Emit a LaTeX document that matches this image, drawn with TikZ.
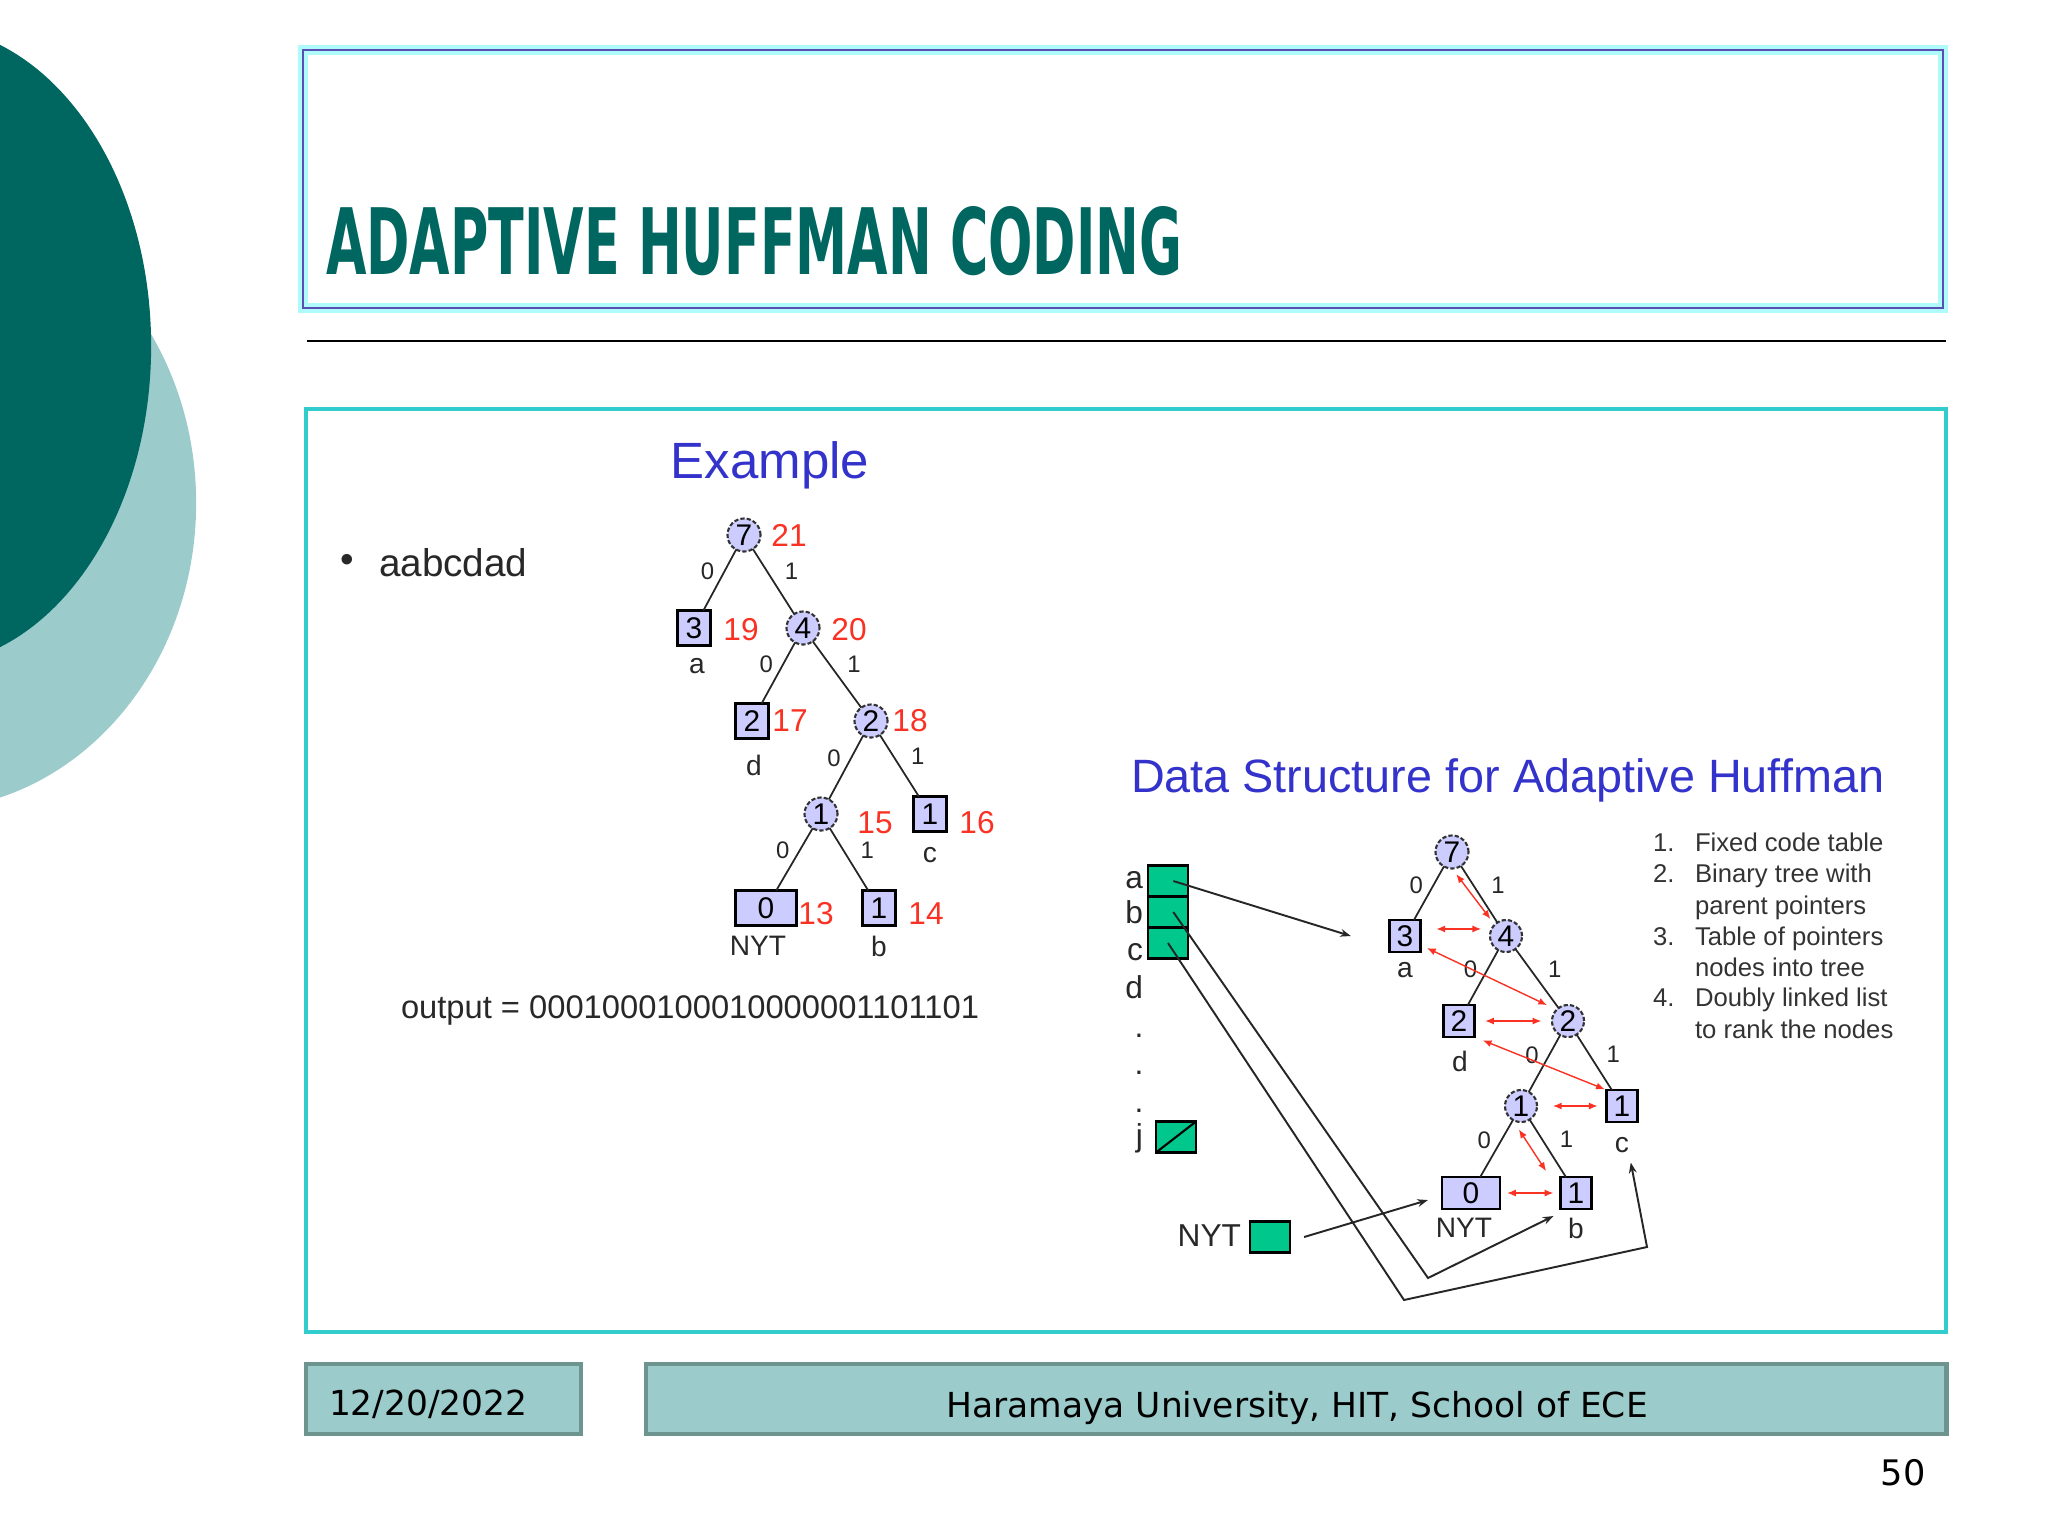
\documentclass[tikz,border=0pt]{standalone}
\usepackage{fontspec}
\setmainfont{Liberation Sans}
\newfontfamily\footfont{DejaVu Sans}
\usetikzlibrary{arrows.meta,positioning}

\definecolor{darkteal}{RGB}{0,102,96}
\definecolor{lightteal}{RGB}{156,203,203}
\definecolor{footline}{RGB}{110,148,144}
\definecolor{frameturq}{RGB}{51,204,204}
\definecolor{titleline}{RGB}{90,80,180}
\definecolor{glow}{RGB}{175,250,250}
\definecolor{headblue}{RGB}{51,51,204}
\definecolor{wtred}{RGB}{250,50,35}
\definecolor{nodefill}{RGB}{204,204,255}
\definecolor{cellgreen}{RGB}{0,200,140}
\definecolor{txtgray}{RGB}{40,40,40}

\begin{document}
\begin{tikzpicture}[x=0.01cm, y=-0.01cm,
  every node/.style={inner sep=0pt, outer sep=0pt},
  inode/.style={circle, draw=black!80, dash pattern=on 1.2pt off 0.6pt, line width=0.6pt,
    fill=nodefill, minimum size=0.33cm, font=\fontsize{8.5}{9}\selectfont},
  leaf/.style={rectangle, draw=black, line width=0.8pt, fill=nodefill,
    minimum width=0.33cm, minimum height=0.35cm, font=\fontsize{8.5}{9}\selectfont},
  nytleaf/.style={leaf, minimum width=0.61cm},
  branch/.style={draw=black!85, line width=0.5pt},
  rank/.style={draw=wtred, line width=0.4pt, {Latex[length=2.5pt,width=2pt]}-{Latex[length=2.5pt,width=2pt]}},
  ptr/.style={draw=black!85, line width=0.55pt, -{Stealth[length=3pt,width=2.2pt]}}
]

% Label styles
\tikzset{
  elabel/.style={font=\fontsize{6.8}{7}\selectfont, text=black!85},
  wt/.style={font=\fontsize{9}{10}\selectfont, text=wtred},
  sym/.style={font=\fontsize{8}{9}\selectfont, text=txtgray},
  cell/.style={rectangle, draw=black, line width=0.6pt, fill=cellgreen,
    minimum width=0.4cm, minimum height=0.31cm},
  listtxt/.style={anchor=base west, font=\fontsize{7.3}{8}\selectfont, text=black!80}
}

\useasboundingbox (0,0) rectangle (2048,1536);

% ---- Slide background ----
\begin{scope}
  \clip (0,0) rectangle (2048,1536);
  \fill[lightteal] (-78,503) ellipse [x radius=2.74cm, y radius=3.07cm];
  \fill[darkteal] (-78,346) ellipse [x radius=2.29cm, y radius=3.2cm];
\end{scope}

\draw[glow, line width=3pt] (303,50) rectangle (1943,308);
\draw[titleline, line width=0.6pt] (303,50) rectangle (1943,308);
\node[anchor=base west, text=darkteal] (title) at (326,274)
  {\resizebox{8.56cm}{0.68cm}{\footfont\bfseries ADAPTIVE HUFFMAN CODING}};
\draw[black, line width=0.7pt] (307,341) -- (1946,341);

\draw[frameturq, line width=1.4pt] (306,409) rectangle (1946,1332);

% ---- Footer ----
\node[draw=footline, line width=1.2pt, fill=lightteal, minimum width=2.75cm, minimum height=0.7cm]
  (datebox) at (443.5,1399) {};
\node[anchor=west, font=\footfont\fontsize{9.8}{11}\selectfont] (date) at (329,1404) {12/20/2022};
\node[draw=footline, line width=1.2pt, fill=lightteal, minimum width=13cm, minimum height=0.7cm]
  (schoolbox) at (1296,1399) {};
\node[font=\footfont\fontsize{9.8}{11}\selectfont] (school) at (1297,1408)
  {Haramaya University, HIT, School of ECE};
\node[font=\footfont\fontsize{10}{11}\selectfont] (page) at (1903,1473) {50};

% ---- Example ----
\node[font=\fontsize{14.5}{16}\selectfont, text=headblue] (ex) at (770,465) {Example};
\node[font=\fontsize{11}{12}\selectfont, text=txtgray] (bul) at (347,563) {\textbullet};
\node[anchor=west, font=\fontsize{11}{12}\selectfont, text=txtgray] (seq) at (379,563) {aabcdad};
\node[anchor=west, font=\fontsize{9.3}{10}\selectfont, text=txtgray] (out) at (401,1010)
  {output = 0001000100010000001101101};

\node[inode] (T) at (744,535) {7};
\node[leaf] (A) at (694,628) {3};
\node[inode] (N4) at (803,628) {4};
\node[leaf] (D) at (752,721) {2};
\node[inode] (N2) at (871,721) {2};
\node[inode] (N1) at (821,814) {1};
\node[leaf] (C) at (930,814) {1};
\node[nytleaf] (NYT) at (766,908) {0};
\node[leaf] (B) at (879,908) {1};

\draw[branch] (T) -- node[elabel, pos=.35, left=3pt]{0} (A);
\draw[branch] (T) -- node[elabel, pos=.35, right=5pt]{1} (N4);
\draw[branch] (N4) -- node[elabel, pos=.35, left=3pt]{0} (D);
\draw[branch] (N4) -- node[elabel, pos=.35, right=5pt]{1} (N2);
\draw[branch] (N2) -- node[elabel, pos=.35, left=3pt]{0} (N1);
\draw[branch] (N2) -- node[elabel, pos=.35, right=5pt]{1} (C);
\draw[branch] (N1) -- node[elabel, pos=.35, left=3pt]{0} (NYT);
\draw[branch] (N1) -- node[elabel, pos=.35, right=5pt]{1} (B);

\node[wt] at (789,535) {21};
\node[wt] at (741,630) {19};
\node[wt] at (849,630) {20};
\node[wt] at (790,721) {17};
\node[wt] at (910,721) {18};
\node[wt] at (875,823) {15};
\node[wt] at (977,823) {16};
\node[wt] at (816,914) {13};
\node[wt] at (926,914) {14};

\node[sym] (la) at (697,666) {a};
\node[sym] (ld) at (754,765) {d};
\node[sym] (lc) at (930,855) {c};
\node[sym] (lnyt) at (758,946) {NYT};
\node[sym] (lb) at (879,946) {b};

% ---- Data structure ----
\node[anchor=west, font=\fontsize{13.3}{15}\selectfont, text=headblue] (ds) at (1131,780)
  {Data Structure for Adaptive Huffman};

\node[inode] (rT) at (1452,852) {7};
\node[leaf, minimum width=0.31cm, minimum height=0.32cm] (rA) at (1405,936) {3};
\node[inode, minimum size=0.32cm] (rN4) at (1506,936) {4};
\node[leaf, minimum width=0.31cm, minimum height=0.32cm] (rD) at (1459,1021) {2};
\node[inode, minimum size=0.32cm] (rN2) at (1568,1021) {2};
\node[inode, minimum size=0.32cm] (rN1) at (1521,1106) {1};
\node[leaf, minimum width=0.31cm, minimum height=0.32cm] (rC) at (1622,1106) {1};
\node[nytleaf, minimum width=0.58cm, minimum height=0.32cm] (rNYT) at (1471,1193) {0};
\node[leaf, minimum width=0.31cm, minimum height=0.32cm] (rB) at (1576,1193) {1};

\draw[branch] (rT) -- node[elabel, pos=.35, left=3pt]{0} (rA);
\draw[branch] (rT) -- node[elabel, pos=.35, right=5pt]{1} (rN4);
\draw[branch] (rN4) -- node[elabel, pos=.35, left=3pt]{0} (rD);
\draw[branch] (rN4) -- node[elabel, pos=.35, right=5pt]{1} (rN2);
\draw[branch] (rN2) -- node[elabel, pos=.35, left=3pt]{0} (rN1);
\draw[branch] (rN2) -- node[elabel, pos=.35, right=5pt]{1} (rC);
\draw[branch] (rN1) -- node[elabel, pos=.35, left=3pt]{0} (rNYT);
\draw[branch] (rN1) -- node[elabel, pos=.35, right=5pt]{1} (rB);

\node[sym] (rla) at (1405,970) {a};
\node[sym] (rld) at (1460,1061) {d};
\node[sym] (rlc) at (1622,1145) {c};
\node[sym] (rlnyt) at (1464,1228) {NYT};
\node[sym] (rlb) at (1576,1228) {b};

% sibling list
\draw[rank, shorten <=2pt, shorten >=2pt] (rT.south) -- (rN4.north west);
\draw[rank, shorten <=4.5pt, shorten >=2.5pt] ([yshift=2pt]rA.east) -- ([yshift=2pt]rN4.west);
\draw[rank, shorten <=2pt, shorten >=3pt] ([yshift=2pt]rA.south east) -- (rN2.north west);
\draw[rank, shorten <=3pt, shorten >=3pt] (rD.east) -- (rN2.west);
\draw[rank, shorten <=2.5pt, shorten >=0.5pt] (rD.south east) -- (rC.north west);
\draw[rank, shorten <=4.5pt, shorten >=2.5pt] (rN1.east) -- (rC.west);
\draw[rank, shorten <=2.5pt, shorten >=2pt] ([xshift=-2pt]rN1.south) -- ([xshift=-3pt]rB.north west);
\draw[rank, shorten <=2pt, shorten >=2pt] (rNYT.east) -- (rB.west);

% symbol table
\node[cell] (ca) at (1168,881) {};
\node[cell] (cb) at (1168,912) {};
\node[cell] (cc) at (1168,943) {};
\node[cell] (cj) at (1176,1137) {};
\draw[black, line width=0.6pt] (cj.south west) -- (cj.north east);
\node[cell] (cnyt) at (1270,1237) {};

\foreach \s/\yb in {a/888, b/923, c/960, d/998}
  \node[anchor=base east, font=\fontsize{9}{10}\selectfont, text=txtgray] at (1143,\yb) {\s};
\foreach \yb in {1037, 1074, 1112}
  \node[anchor=base, font=\fontsize{9}{10}\selectfont, text=txtgray] at (1139,\yb) {.};
\node[anchor=base east, font=\fontsize{9}{10}\selectfont, text=txtgray] (lj) at (1143,1146) {j};
\node[anchor=east, font=\fontsize{9}{10}\selectfont, text=txtgray] (lnytc) at (1241,1236) {NYT};

\coordinate (bturn) at (1428,1278);
\coordinate (cturn1) at (1404,1300);
\coordinate (cturn2) at (1647,1247);

\draw[ptr] ([xshift=1.5pt]ca.center) -- ([xshift=-11pt]rA.west);
\draw[ptr] ([xshift=1.5pt]cb.center) -- (bturn) -- ([xshift=-2pt,yshift=-2pt]rB.south west);
\draw[ptr] (cc.center) -- (cturn1) -- (cturn2) -- ([xshift=2.5pt,yshift=-2.8pt]rlc.south);
\draw[ptr] ([xshift=4pt]cnyt.east) -- ([xshift=-4pt,yshift=-2pt]rNYT.west);

% ---- Item list ----
\foreach \n/\yb in {1./851, 2./882, 3./945, 4./1006}
  \node[listtxt] at (1653,\yb) {\n};
\node[listtxt] at (1695,851) {Fixed code table};
\node[listtxt] at (1695,882) {Binary tree with};
\node[listtxt] at (1695,914) {parent pointers};
\node[listtxt] at (1695,945) {Table of pointers};
\node[listtxt] at (1695,976) {nodes into tree};
\node[listtxt] at (1695,1006) {Doubly linked list};
\node[listtxt] at (1695,1038) {to rank the nodes};

\end{tikzpicture}
\end{document}
